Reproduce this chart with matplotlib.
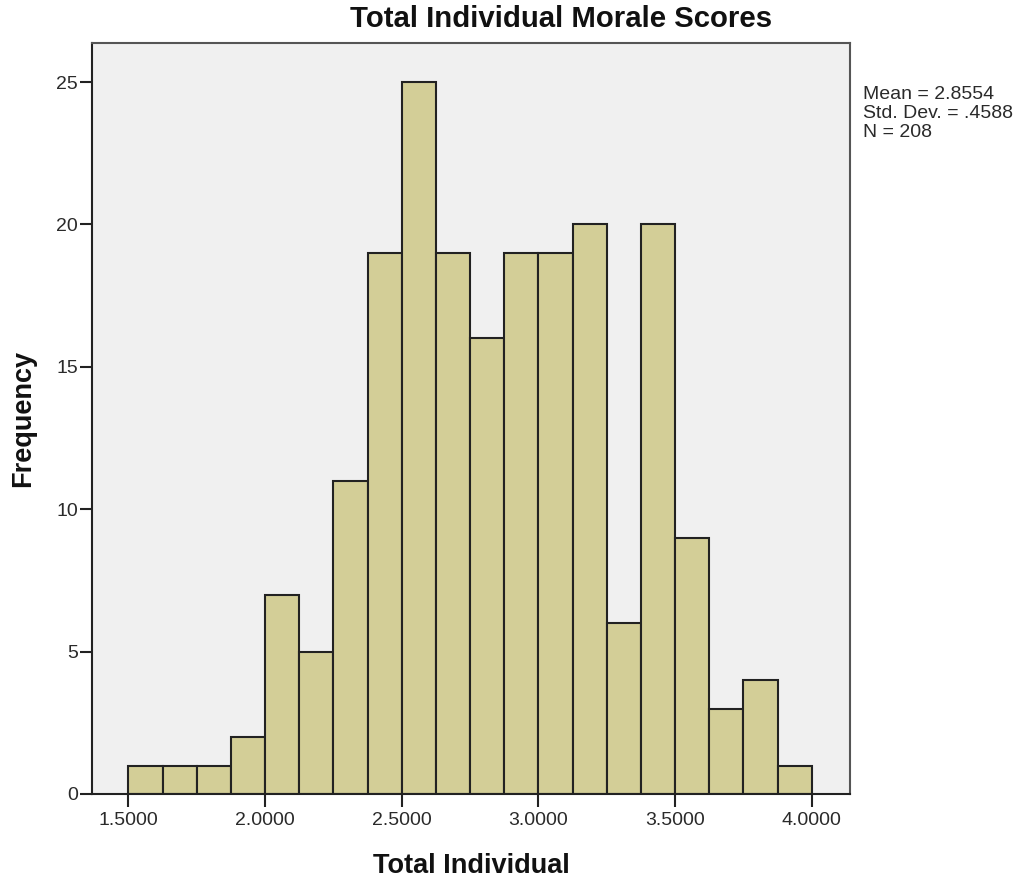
import matplotlib
matplotlib.use("Agg")
import matplotlib.pyplot as plt
import numpy as np

plt.rcParams['font.family'] = ['Liberation Sans', 'DejaVu Sans']

# Data
bin_edges = [1.5 + 0.125 * i for i in range(21)]
counts = [1, 1, 1, 2, 7, 5, 11, 19, 25, 19, 16, 19, 19, 20, 6, 20, 9, 3, 4, 1]
xticks = [1.5, 2.0, 2.5, 3.0, 3.5, 4.0]
xtick_labels = ["1.5000", "2.0000", "2.5000", "3.0000", "3.5000", "4.0000"]
yticks = [0, 5, 10, 15, 20, 25]
title = "Total Individual Morale Scores"
xlabel = "Total Individual"
ylabel = "Frequency"
stats_lines = ["Mean = 2.8554", "Std. Dev. = .4588", "N = 208"]

W, H = 1019, 877
fig = plt.figure(figsize=(W / 100, H / 100), dpi=100)
fig.patch.set_facecolor('white')
ax = fig.add_axes([92 / W, (H - 794) / H, (850 - 92) / W, (794 - 43) / H])
ax.set_facecolor('#F0F0F0')

lefts = np.array(bin_edges[:-1])
widths = np.diff(bin_edges)
ax.bar(lefts, counts, width=widths, align='edge', color='#D3CE97',
       edgecolor='#222222', linewidth=1.5, zorder=2)

ax.set_xlim(1.367, 4.14)
ax.set_ylim(0, 26.37)
ax.set_xticks(xticks)
ax.set_xticklabels(xtick_labels)
ax.set_yticks(yticks)
ax.tick_params(axis='both', direction='out', length=9, width=1.5,
               color='#222222', labelsize=14, labelcolor='#2a2a2a')
ax.tick_params(axis='x', pad=4)
ax.tick_params(axis='y', pad=1)

for side in ['left', 'bottom']:
    ax.spines[side].set_color('#222222')
    ax.spines[side].set_linewidth(1.5)
for side in ['top', 'right']:
    ax.spines[side].set_color('#555555')
    ax.spines[side].set_linewidth(1.5)

fig.text(561 / W, (H - 27) / H, title, ha='center', va='baseline',
         fontsize=21.2, fontweight='bold', color='#111111')
fig.text(471 / W, (H - 873) / H, xlabel, ha='center', va='baseline',
         fontsize=19.5, fontweight='bold', color='#111111')
fig.text(23 / W, (H - 418.5) / H, ylabel, ha='center', va='center',
         rotation=90, fontsize=19.5, fontweight='bold', color='#111111')
fig.text(863 / W, (H - 86) / H, "\n".join(stats_lines), ha='left', va='top',
         fontsize=14, linespacing=1.15, color='#2a2a2a')

fig.savefig('out.png', dpi=100, facecolor='white')
